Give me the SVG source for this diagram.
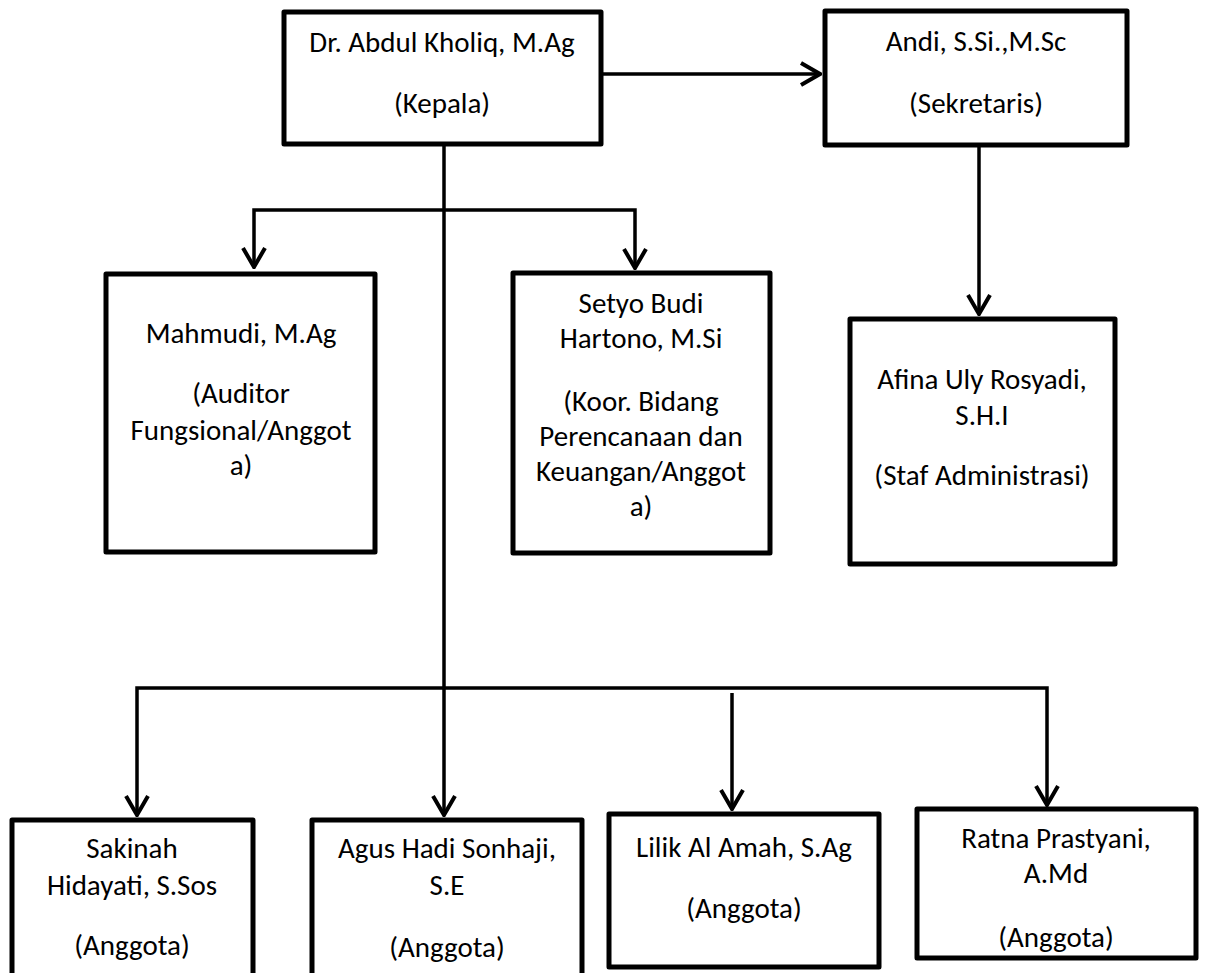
<svg xmlns="http://www.w3.org/2000/svg" width="1208" height="973" viewBox="0 0 1208 973">
  <style>
    .box { fill: #fff; stroke: #000; stroke-width: 5; stroke-linejoin: round; }
    .lbl { font-family: Carlito, Calibri, Lato, "Liberation Sans", sans-serif; font-size: 29px; fill: #000; text-anchor: middle; }
    .wire { fill: none; stroke: #000; stroke-width: 3.5; }
  </style>
  <defs>
    <marker id="arrow" markerUnits="userSpaceOnUse" viewBox="-24 -14 26 28" markerWidth="26" markerHeight="28" refX="0" refY="0" orient="auto-start-reverse">
      <path d="M-19,-11 L0,0 L-19,11" fill="none" stroke="#000" stroke-width="4" stroke-linejoin="miter"/>
    </marker>
  </defs>

  <rect width="1208" height="973" fill="#fff"/>

  <!-- connectors -->
  <g id="connectors">
    <line class="wire" x1="602" y1="74" x2="820" y2="74" marker-end="url(#arrow)"/>
    <line class="wire" x1="444" y1="146" x2="444" y2="815" marker-end="url(#arrow)"/>
    <polyline class="wire" points="254,267 254,210 635,210 635,268" marker-start="url(#arrow)" marker-end="url(#arrow)"/>
    <line class="wire" x1="979" y1="147" x2="979" y2="314" marker-end="url(#arrow)"/>
    <polyline class="wire" points="137,815 137,688 1047,688 1047,805" marker-start="url(#arrow)" marker-end="url(#arrow)"/>
    <line class="wire" x1="732" y1="693" x2="732" y2="809" marker-end="url(#arrow)"/>
  </g>

  <g id="kepala">
    <rect class="box" x="284" y="12" width="317" height="132"/>
    <text class="lbl" x="442" y="52">Dr. Abdul Kholiq, M.Ag</text>
    <text class="lbl" x="442" y="113">(Kepala)</text>
  </g>

  <g id="sekretaris">
    <rect class="box" x="825" y="11" width="302" height="134"/>
    <text class="lbl" x="976" y="51">Andi, S.Si.,M.Sc</text>
    <text class="lbl" x="976" y="113">(Sekretaris)</text>
  </g>

  <g id="auditor">
    <rect class="box" x="106" y="274" width="269" height="278"/>
    <text class="lbl" x="241" y="343">Mahmudi, M.Ag</text>
    <text class="lbl" x="241" y="403">(Auditor</text>
    <text class="lbl" x="241" y="440">Fungsional/Anggot</text>
    <text class="lbl" x="241" y="475">a)</text>
  </g>

  <g id="koordinator">
    <rect class="box" x="513" y="273" width="257" height="280"/>
    <text class="lbl" x="641" y="313">Setyo Budi</text>
    <text class="lbl" x="641" y="348">Hartono, M.Si</text>
    <text class="lbl" x="641" y="411">(Koor. Bidang</text>
    <text class="lbl" x="641" y="446">Perencanaan dan</text>
    <text class="lbl" x="641" y="481">Keuangan/Anggot</text>
    <text class="lbl" x="641" y="516">a)</text>
  </g>

  <g id="staf">
    <rect class="box" x="850" y="319" width="265" height="245"/>
    <text class="lbl" x="982" y="389">Afina Uly Rosyadi,</text>
    <text class="lbl" x="982" y="425">S.H.I</text>
    <text class="lbl" x="982" y="485">(Staf Administrasi)</text>
  </g>

  <g id="sakinah">
    <rect class="box" x="12" y="820" width="241" height="200"/>
    <text class="lbl" x="132" y="858">Sakinah</text>
    <text class="lbl" x="132" y="895">Hidayati, S.Sos</text>
    <text class="lbl" x="132" y="955">(Anggota)</text>
  </g>

  <g id="agus">
    <rect class="box" x="312" y="820" width="270" height="200"/>
    <text class="lbl" x="447" y="858">Agus Hadi Sonhaji,</text>
    <text class="lbl" x="447" y="895">S.E</text>
    <text class="lbl" x="447" y="957">(Anggota)</text>
  </g>

  <g id="lilik">
    <rect class="box" x="609" y="814" width="270" height="153"/>
    <text class="lbl" x="744" y="857">Lilik Al Amah, S.Ag</text>
    <text class="lbl" x="744" y="918">(Anggota)</text>
  </g>

  <g id="ratna">
    <rect class="box" x="917" y="809" width="279" height="149"/>
    <text class="lbl" x="1056" y="848">Ratna Prastyani,</text>
    <text class="lbl" x="1056" y="883">A.Md</text>
    <text class="lbl" x="1056" y="947">(Anggota)</text>
  </g>
</svg>
